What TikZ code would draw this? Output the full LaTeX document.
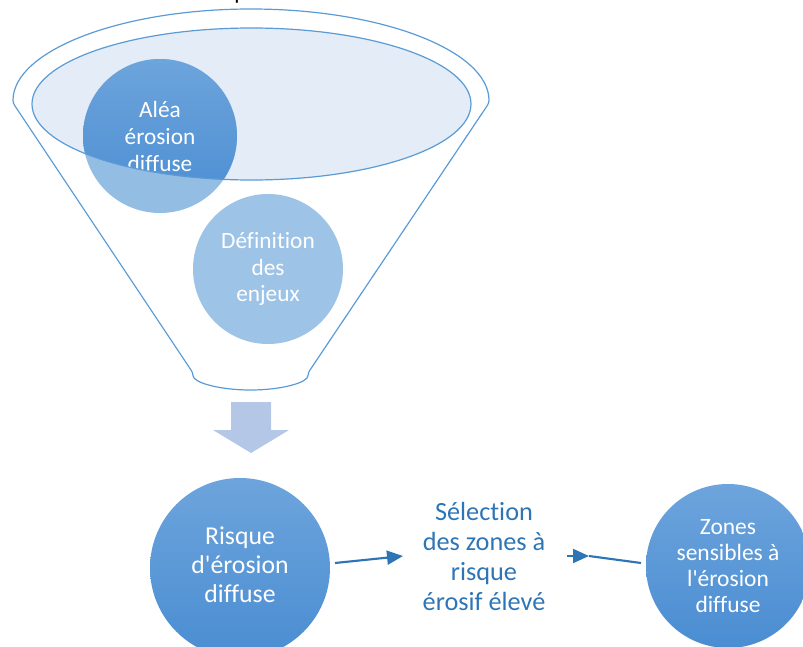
\documentclass[tikz,border=0pt]{standalone}
\usepackage{fontspec}
\setmainfont{Carlito}[Ligatures={TeXOff,NoCommon}]
\usetikzlibrary{arrows.meta}
\definecolor{fborder}{HTML}{5B9BD5}
\definecolor{ellfill}{HTML}{E4ECF7}
\definecolor{darktop}{HTML}{6DA4DC}
\definecolor{darkbot}{HTML}{4A8DD2}
\definecolor{lightcirc}{HTML}{94BDE3}
\definecolor{defcirc}{HTML}{9DC3E6}
\definecolor{downarrow}{HTML}{B4C7E7}
\definecolor{connblue}{HTML}{2E75B6}
\tikzset{
  funnelline/.style={draw=fborder, line width=0.9pt},
  bigcirc/.style={circle, inner sep=0pt, align=center, text=white},
  conn/.style={draw=connblue, line width=1.6pt},
  tip/.style={-{Triangle[length=12pt,width=10.5pt]}}
}
\begin{document}
\begin{tikzpicture}[x=0.75pt,y=-0.75pt]
\useasboundingbox (0,0) rectangle (803,646);
% cut-off title fragment
\node[anchor=base west, inner sep=0pt, font=\fontsize{17.5}{20}\selectfont] (title) at (234,-1) {p};
% funnel outline
\draw[funnelline, rounded corners=2pt] (13,103) arc[start angle=180, end angle=360, x radius=238, y radius=94]
  -- (308,373) arc[start angle=0, end angle=180, x radius=57.5, y radius=17] -- cycle;
% inner ellipse fill
\fill[ellfill] (251.5,104) ellipse[x radius=219.5, y radius=76];
% Alea circle (light part)
\fill[lightcirc] (160,136) circle[radius=77];
% dark part clipped to ellipse
\begin{scope}
  \clip (251.5,104) ellipse[x radius=219.5, y radius=76];
  \node[bigcirc, minimum size=115.5pt, top color=darktop, bottom color=darkbot,
        font=\fontsize{17.5}{20.25}\selectfont] (alea) at (160,136) {Aléa\\érosion\\diffuse};
\end{scope}
\draw[funnelline] (251.5,104) ellipse[x radius=219.5, y radius=76];
% Definition circle
\node[bigcirc, minimum size=112.5pt, fill=defcirc,
      font=\fontsize{17.5}{20}\selectfont] (def) at (268,269) {Définition\\des\\enjeux};
% down arrow
\fill[downarrow] (231,402) -- (271,402) -- (271,430) -- (289,430) -- (251,453) -- (213,430) -- (231,430) -- cycle;
% bottom circles
\node[bigcirc, minimum size=135pt, top color=darktop, bottom color=darkbot,
      font=\fontsize{19.3}{21.75}\selectfont] (risque) at (240,568) {\raisebox{2.2pt}{\begin{tabular}{@{}c@{}}Risque\\d'érosion\\diffuse\end{tabular}}};
\node[align=center, text=connblue, inner sep=0pt,
      font=\fontsize{19.7}{22.5}\selectfont] (sel) at (484,556) {Sélection\\des zones à\\risque\\érosif élevé};
\node[bigcirc, minimum size=123pt, top color=darktop, bottom color=darkbot,
      font=\fontsize{17.6}{19.5}\selectfont] (zones) at (728,566) {Zones\\sensibles à\\l'érosion\\diffuse};
% connectors
\coordinate (r1) at (335,563);
\coordinate (s1) at (403,556);
\coordinate (s2) at (567,556);
\coordinate (s3) at (589,556);
\coordinate (z1) at (641,563);
\draw[conn, tip] (r1) -- (s1);
\draw[conn, tip] (s2) -- (s3);
\draw[conn] (s3) -- (z1);
\end{tikzpicture}
\end{document}
